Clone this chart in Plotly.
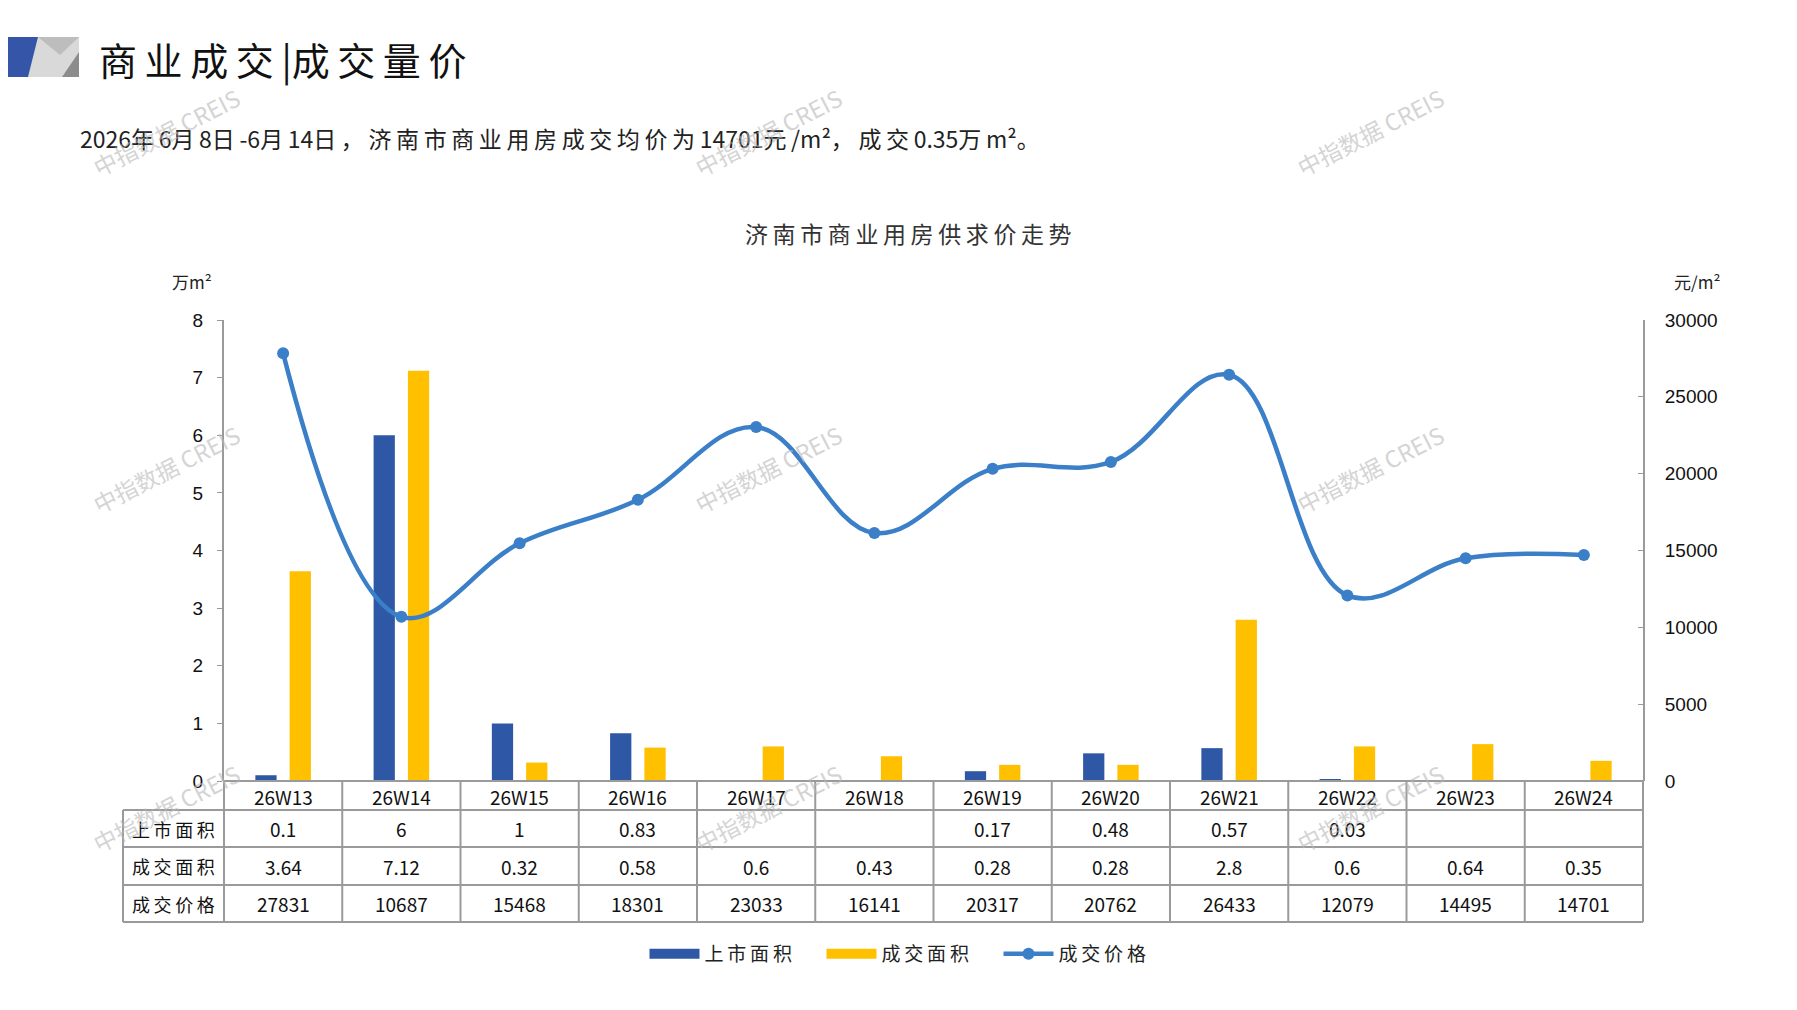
import plotly.graph_objects as go

# -- Datos ---------------------------------------------------------------------
semanas = ["26W13", "26W14", "26W15", "26W16", "26W17", "26W18",
           "26W19", "26W20", "26W21", "26W22", "26W23", "26W24"]
area_mercado = [0.1, 6, 1, 0.83, None, None, 0.17, 0.48, 0.57, 0.03, None, None]   # 上市面积
area_venta   = [3.64, 7.12, 0.32, 0.58, 0.6, 0.43, 0.28, 0.28, 2.8, 0.6, 0.64, 0.35]  # 成交面积
precio       = [27831, 10687, 15468, 18301, 23033, 16141, 20317, 20762, 26433, 12079, 14495, 14701]  # 成交价格

nombres_filas = ["上市面积", "成交面积", "成交价格"]
ticks_izq = [0, 1, 2, 3, 4, 5, 6, 7, 8]
ticks_der = [0, 5000, 10000, 15000, 20000, 25000, 30000]

titulo      = "商业成交|成交量价"
subtitulo   = "2026年6月8日-6月14日，济南市商业用房成交均价为14701元/m²，成交0.35万m²。"
titulo_graf = "济南市商业用房供求价走势"
marca_agua  = "中指数据 CREIS"

# -- Geometria (pixeles) ---------------------------------------------------------
W, H = 1797, 1010
L, R, T, B = 216, 1635, 312, 773
FUENTE = "Noto Sans CJK SC"
AZUL, AMARILLO, LINEA = "#2E58A6", "#FFC000", "#3B7FC8"
GRIS = "#9a9a9a"


def px_x(px):
    return (px - L) / (R - L)


def px_y(py):
    return (B - py) / (B - T)


def espaciar(txt):
    # separa un poco los caracteres chinos, como en el original
    return "".join(c + "\u2009" if ord(c) > 0x2000 and c not in "²" else c for c in txt).rstrip("\u2009")


fig = go.Figure()

fig.add_trace(go.Bar(x=semanas, y=area_mercado, name="上市面积", showlegend=False,
                     legendgroup="a", marker=dict(color=AZUL, line=dict(width=0))))
fig.add_trace(go.Bar(x=semanas, y=area_venta, name="成交面积", showlegend=False,
                     legendgroup="b", marker=dict(color=AMARILLO, line=dict(width=0))))
fig.add_trace(go.Scatter(x=semanas, y=precio, name=espaciar("成交价格"), yaxis="y2",
                         mode="lines+markers", legendgroup="c", legendrank=3,
                         line=dict(color=LINEA, width=4.5, shape="spline", smoothing=1.1),
                         marker=dict(color=LINEA, size=12)))
# entradas de leyenda con muestra rectangular ancha para las barras
fig.add_trace(go.Scatter(x=[None], y=[None], name=espaciar("上市面积"), mode="lines",
                         legendgroup="a", legendrank=1, line=dict(color=AZUL, width=10)))
fig.add_trace(go.Scatter(x=[None], y=[None], name=espaciar("成交面积"), mode="lines",
                         legendgroup="b", legendrank=2, line=dict(color=AMARILLO, width=10)))

shapes = []
anots = []


def texto(txt, x, y, size, color="#111", xanchor="center", **kw):
    anots.append(dict(text=txt, x=px_x(x), y=px_y(y), xref="paper", yref="paper",
                      xanchor=xanchor, yanchor="middle", showarrow=False,
                      font=dict(family=FUENTE, size=size, color=color), **kw))


# -- Logo ----------------------------------------------------------------------
def poli(pts, color):
    path = "M " + " L ".join(f"{px_x(x):.5f},{px_y(y):.5f}" for x, y in pts) + " Z"
    shapes.append(dict(type="path", path=path, xref="paper", yref="paper",
                       fillcolor=color, line=dict(width=0), layer="above"))


poli([(0, 29), (71, 29), (71, 69), (0, 69)], "#d9d9d9")
poli([(30, 29), (71, 29), (52, 47)], "#bdbdbd")
poli([(71, 44), (71, 69), (54, 69)], "#8c8c8c")
poli([(0, 29), (30, 29), (20, 69), (0, 69)], "#3556a8")

texto(espaciar(titulo), 89, 50, 38, "#111", xanchor="left")
texto(espaciar(subtitulo), 70, 130, 23, "#222", xanchor="left")
texto(espaciar(titulo_graf), 900, 225, 23, "#333")
texto("万m²", 184, 274, 17, "#222")
texto("元/m²", 1689, 274, 17, "#222")

# -- Tabla de datos --------------------------------------------------------------
filas_y = [773, 802, 839, 877, 914]
izq_tabla = 115
n = len(semanas)
ancho = (R - L) / n


def linea(x0, y0, x1, y1):
    shapes.append(dict(type="line", xref="paper", yref="paper",
                       x0=px_x(x0), y0=px_y(y0), x1=px_x(x1), y1=px_y(y1),
                       line=dict(color=GRIS, width=2), layer="above"))


linea(L, filas_y[0], R, filas_y[0])
for yy in filas_y[1:]:
    linea(izq_tabla, yy, R, yy)
linea(izq_tabla, filas_y[1], izq_tabla, filas_y[-1])
for i in range(n + 1):
    linea(L + i * ancho, filas_y[0], L + i * ancho, filas_y[-1])

filas_txt = [
    ["" if v is None else f"{v:g}" for v in area_mercado],
    [f"{v:g}" for v in area_venta],
    [str(v) for v in precio],
]

for i, s in enumerate(semanas):
    cx = L + (i + 0.5) * ancho
    texto(s, cx, (filas_y[0] + filas_y[1]) / 2 + 1, 19)
    for r, fila in enumerate(filas_txt):
        texto(fila[i], cx, (filas_y[r + 1] + filas_y[r + 2]) / 2, 19)

for r, nom in enumerate(nombres_filas):
    texto(espaciar(nom), (izq_tabla + L) / 2, (filas_y[r + 1] + filas_y[r + 2]) / 2, 18)

# -- Marcas de agua ----------------------------------------------------------------
for wy in (124, 461, 800):
    for wx in (158, 760, 1362):
        texto(marca_agua, wx, wy, 23, "#b8b8b8", textangle=-27, opacity=0.6)

fig.update_layout(
    width=W, height=H,
    margin=dict(l=L, r=W - R, t=T, b=H - B),
    paper_bgcolor="white", plot_bgcolor="white",
    barmode="group", bargap=0.42, bargroupgap=0.38,
    showlegend=True,
    legend=dict(orientation="h", x=px_x(902), y=px_y(946), xanchor="center", yanchor="middle",
                font=dict(family=FUENTE, size=19, color="#222"), itemwidth=50,
                entrywidth=112, entrywidthmode="pixels", bgcolor="rgba(0,0,0,0)"),
    xaxis=dict(showticklabels=False, showline=False, showgrid=False, ticks="",
               range=[-0.5, n - 0.5]),
    yaxis=dict(range=[0, 8], tickvals=ticks_izq, showgrid=False, zeroline=False,
               showline=True, linecolor=GRIS, linewidth=2, ticks="outside",
               ticklen=5, tickcolor=GRIS, ticklabelstandoff=10,
               tickfont=dict(family="Liberation Sans", size=19, color="#111")),
    yaxis2=dict(range=[0, 30000], tickvals=ticks_der, tickformat="d", overlaying="y",
                side="right", showgrid=False, zeroline=False, showline=True,
                linecolor=GRIS, linewidth=2, ticks="inside", ticklen=5, tickcolor=GRIS,
                ticklabelstandoff=16,
                tickfont=dict(family="Liberation Sans", size=19, color="#111")),
    shapes=shapes,
    annotations=anots,
)

fig.write_html("out.html")
